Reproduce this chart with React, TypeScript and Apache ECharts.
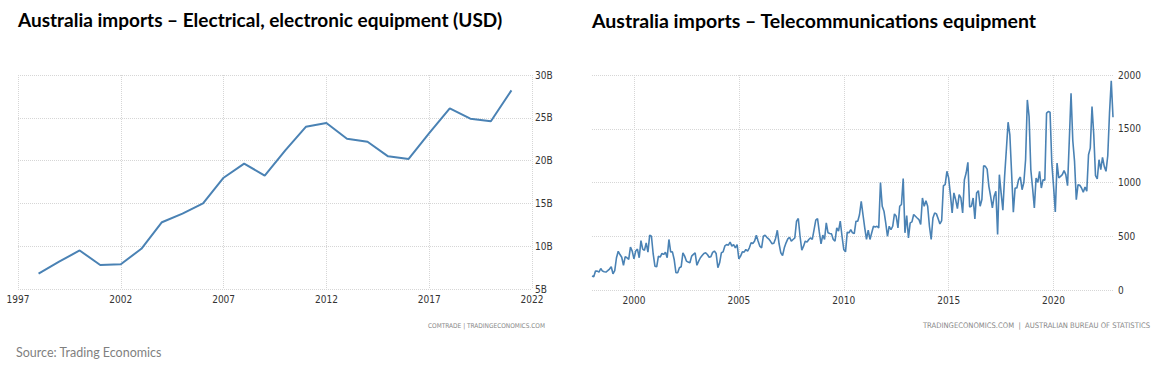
import React, { useEffect, useRef } from "react";
import * as echarts from "echarts";

// ---------- Left chart: annual electrical / electronic equipment imports (USD billions)
const elecYears = [
  "1997", "1998", "1999", "2000", "2001", "2002", "2003", "2004", "2005",
  "2006", "2007", "2008", "2009", "2010", "2011", "2012", "2013", "2014",
  "2015", "2016", "2017", "2018", "2019", "2020", "2021", "2022",
];
const elecValues: (number | null)[] = [
  null, 6.8, 8.2, 9.5, 7.8, 7.9, 9.7, 12.8, 13.8, 15.0, 18.0, 19.65, 18.25,
  21.2, 23.95, 24.4, 22.55, 22.2, 20.5, 20.2, 23.2, 26.1, 24.9, 24.6, 28.2, null,
];
const elecTicks = [5, 10, 15, 20, 25, 30];

// ---------- Right chart: monthly telecommunications equipment imports
const telecomStartYear = 1998;
const tel1998 = [130, 124, 176, 176, 167, 200, 176, 170, 167, 180, 195, 216];
const tel1999 = [151, 180, 300, 360, 330, 305, 230, 310, 300, 285, 400, 362];
const tel2000 = [290, 362, 380, 300, 460, 380, 368, 439, 352, 510, 500, 335];
const tel2001 = [222, 216, 315, 306, 340, 331, 352, 300, 470, 355, 355, 284];
const tel2002 = [161, 161, 207, 216, 346, 315, 269, 260, 253, 315, 331, 346];
const tel2003 = [230, 269, 300, 320, 340, 346, 330, 305, 310, 350, 362, 340];
const tel2004 = [207, 253, 346, 355, 410, 423, 417, 445, 408, 423, 392, 423];
const tel2005 = [290, 315, 355, 352, 377, 362, 392, 439, 433, 455, 510, 455];
const tel2006 = [408, 392, 500, 510, 490, 476, 455, 430, 435, 480, 556, 430];
const tel2007 = [346, 321, 392, 439, 476, 491, 455, 470, 485, 640, 665, 500];
const tel2008 = [371, 408, 455, 445, 470, 485, 470, 560, 650, 665, 540, 430];
const tel2009 = [510, 470, 624, 532, 525, 522, 470, 455, 578, 547, 640, 500];
const tel2010 = [377, 355, 538, 532, 562, 532, 525, 640, 640, 700, 825, 700];
const tel2011 = [578, 470, 556, 470, 532, 593, 587, 593, 578, 1000, 779, 733];
const tel2012 = [624, 500, 593, 562, 593, 708, 686, 578, 779, 795, 1036, 532];
const tel2013 = [692, 485, 624, 634, 702, 686, 670, 655, 609, 856, 779, 831];
const tel2014 = [779, 593, 470, 670, 717, 708, 662, 615, 646, 970, 980, 1104];
const tel2015 = [1042, 887, 717, 903, 841, 757, 887, 856, 717, 1026, 1088, 1187];
const tel2016 = [773, 779, 856, 662, 903, 924, 779, 841, 1156, 1150, 1125, 964];
const tel2017 = [872, 764, 872, 918, 516, 1073, 903, 742, 1057, 1304, 1561, 1444];
const tel2018 = [1088, 723, 949, 949, 1026, 1051, 933, 1000, 1212, 1768, 1614, 1119];
const tel2019 = [949, 764, 1042, 1000, 1104, 949, 1026, 1020, 1645, 1660, 1654, 1181];
const tel2020 = [964, 726, 1181, 1042, 1057, 1073, 1110, 1073, 970, 1391, 1830, 1391];
const tel2021 = [1196, 841, 980, 974, 949, 909, 958, 918, 1258, 1320, 1706, 1444];
const tel2022 = [1063, 1033, 1212, 1119, 1233, 1150, 1104, 1249, 1645, 1947, 1607];
const telecomValues = [
  ...tel1998, ...tel1999, ...tel2000, ...tel2001, ...tel2002, ...tel2003,
  ...tel2004, ...tel2005, ...tel2006, ...tel2007, ...tel2008, ...tel2009,
  ...tel2010, ...tel2011, ...tel2012, ...tel2013, ...tel2014, ...tel2015,
  ...tel2016, ...tel2017, ...tel2018, ...tel2019, ...tel2020, ...tel2021,
  ...tel2022,
];
const telecomMonths = telecomValues.map((_, i) => {
  const y = telecomStartYear + Math.floor(i / 12);
  const m = (i % 12) + 1;
  return `${y}-${m < 10 ? "0" + m : m}`;
});
const telecomLabelYears = ["2000", "2005", "2010", "2015", "2020"];

const titleLeft = "Australia imports – Electrical, electronic equipment (USD)";
const titleRight = "Australia imports – Telecommunications equipment";
const sourceText = "Source: Trading Economics";
const creditLeft = "COMTRADE | TRADINGECONOMICS.COM";
const creditRight = "TRADINGECONOMICS.COM  |  AUSTRALIAN BUREAU OF STATISTICS";

const LINE = "#4a82b4";
const GRID = "#d6d6d6";
const AXIS_FONT = "'Liberation Sans Narrow', 'DejaVu Sans Condensed', sans-serif";
const TITLE_FONT = "Lato, 'Open Sans', sans-serif";

export default function App() {
  const ref = useRef<HTMLDivElement>(null);

  useEffect(() => {
    if (!ref.current) return;
    const chart = echarts.init(ref.current, undefined, { renderer: "svg" });

    const isLabelMonth = (index: number) =>
      telecomLabelYears.includes(telecomMonths[index].slice(0, 4)) &&
      telecomMonths[index].endsWith("-01");

    chart.setOption({
      animation: false,
      backgroundColor: "#ffffff",
      title: [
        {
          text: titleLeft,
          left: 13,
          top: 5,
          textStyle: { fontFamily: TITLE_FONT, fontWeight: "bold", fontSize: 19, color: "#000" },
        },
        {
          text: titleRight,
          left: 587,
          top: 5,
          textStyle: { fontFamily: TITLE_FONT, fontWeight: "bold", fontSize: 19.5, color: "#000" },
        },
        {
          text: sourceText,
          left: 11,
          top: 341,
          textStyle: { fontFamily: TITLE_FONT, fontWeight: "normal", fontSize: 12.5, color: "#7f7f7f" },
        },
      ],
      graphic: [
        {
          type: "text",
          right: 1158 - 545,
          top: 322,
          style: { text: creditLeft, fontFamily: AXIS_FONT, fontSize: 6.5, fill: "#888" },
        },
        {
          type: "text",
          right: 8,
          top: 321,
          style: { text: creditRight, fontFamily: AXIS_FONT, fontSize: 7.6, fill: "#888" },
        },
      ],
      grid: [
        { left: 18, right: 626, top: 75, bottom: 77, containLabel: false },
        { left: 592, right: 45, top: 75, bottom: 76, containLabel: false },
      ],
      xAxis: [
        {
          gridIndex: 0,
          type: "category",
          data: elecYears,
          boundaryGap: false,
          axisLine: { show: false },
          axisTick: { show: false },
          axisLabel: {
            interval: 4,
            margin: 5,
            fontFamily: AXIS_FONT,
            fontSize: 10,
            color: "#333",
          },
          splitLine: { show: true, interval: 4, lineStyle: { color: GRID, type: "dotted", width: 1 } },
        },
        {
          gridIndex: 1,
          type: "category",
          data: telecomMonths,
          boundaryGap: false,
          axisLine: { show: false },
          axisTick: { show: false },
          axisLabel: {
            interval: (index: number) => isLabelMonth(index),
            formatter: (v: string) => v.slice(0, 4),
            margin: 5,
            fontFamily: AXIS_FONT,
            fontSize: 10,
            color: "#333",
          },
          splitLine: {
            show: true,
            interval: (index: number) => isLabelMonth(index),
            lineStyle: { color: GRID, type: "dotted", width: 1 },
          },
        },
      ],
      yAxis: [
        {
          gridIndex: 0,
          type: "value",
          position: "right",
          min: elecTicks[0],
          max: elecTicks[elecTicks.length - 1],
          interval: 5,
          axisLine: { show: false },
          axisTick: { show: false },
          axisLabel: {
            margin: 3,
            formatter: (v: number) => `${v}B`,
            fontFamily: AXIS_FONT,
            fontSize: 10,
            color: "#333",
          },
          splitLine: { show: true, lineStyle: { color: GRID, type: "dotted", width: 1 } },
        },
        {
          gridIndex: 1,
          type: "value",
          position: "right",
          min: 0,
          max: 2000,
          interval: 500,
          axisLine: { show: false },
          axisTick: { show: false },
          axisLabel: {
            margin: 5,
            formatter: (v: number) => String(v),
            fontFamily: AXIS_FONT,
            fontSize: 10,
            color: "#333",
          },
          splitLine: { show: true, lineStyle: { color: GRID, type: "dotted", width: 1 } },
        },
      ],
      series: [
        {
          type: "line",
          xAxisIndex: 0,
          yAxisIndex: 0,
          data: elecValues,
          showSymbol: false,
          symbol: "none",
          connectNulls: false,
          lineStyle: { color: LINE, width: 2 },
        },
        {
          type: "line",
          xAxisIndex: 1,
          yAxisIndex: 1,
          data: telecomValues,
          showSymbol: false,
          symbol: "none",
          lineStyle: { color: LINE, width: 1.6 },
        },
      ],
    });

    return () => chart.dispose();
  }, []);

  return (
    <div
      ref={ref}
      style={{ position: "absolute", left: 0, top: 0, width: 1158, height: 366, background: "#fff" }}
    />
  );
}
